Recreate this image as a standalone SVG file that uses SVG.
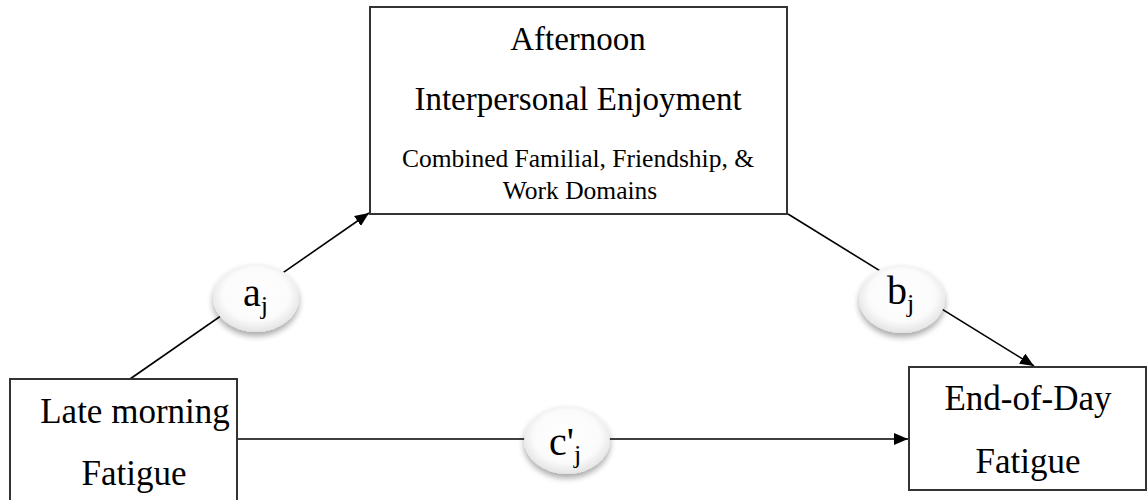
<svg xmlns="http://www.w3.org/2000/svg" width="1148" height="500" viewBox="0 0 1148 500">
  <defs>
    <style>
      .box { fill: #fff; stroke: #333; stroke-width: 2; }
      .lbl { font-family: "Liberation Serif", "Times New Roman", serif; fill: #000; text-anchor: middle; }
      .conn { stroke: #000; stroke-width: 1.6; fill: none; }
      .oval { fill: url(#ovalGrad); filter: url(#shadow); }
      .coef { font-family: "Liberation Serif", "Times New Roman", serif; fill: #000; font-size: 40px; }
      .sub { font-size: 26px; }
    </style>
    <radialGradient id="ovalGrad" cx="50%" cy="45%" r="55%">
      <stop offset="0%" stop-color="#ffffff"/>
      <stop offset="70%" stop-color="#fbfbfb"/>
      <stop offset="100%" stop-color="#e4e4e4"/>
    </radialGradient>
    <filter id="shadow" x="-30%" y="-30%" width="160%" height="170%">
      <feGaussianBlur in="SourceAlpha" stdDeviation="3"/>
      <feOffset dx="0" dy="4" result="b"/>
      <feComponentTransfer><feFuncA type="linear" slope="0.35"/></feComponentTransfer>
      <feMerge><feMergeNode/><feMergeNode in="SourceGraphic"/></feMerge>
    </filter>
    <marker id="arrow" viewBox="0 0 14 12" refX="14" refY="6" markerWidth="14" markerHeight="12" markerUnits="userSpaceOnUse" orient="auto">
      <path d="M0,0 L14,6 L0,12 z" fill="#000"/>
    </marker>
  </defs>

  <rect width="1148" height="500" fill="#fff"/>

  <g id="connectors">
    <line class="conn" x1="130" y1="379" x2="369" y2="213" marker-end="url(#arrow)"/>
    <line class="conn" x1="788" y1="214" x2="1034" y2="366" marker-end="url(#arrow)"/>
    <line class="conn" x1="237" y1="439" x2="908" y2="439" marker-end="url(#arrow)"/>
  </g>

  <g id="node-afternoon">
    <rect class="box" x="370" y="7" width="417" height="207"/>
    <text class="lbl" font-family="Liberation Serif, serif" x="578" y="50" font-size="33">Afternoon</text>
    <text class="lbl" font-family="Liberation Serif, serif" x="578" y="110" font-size="33">Interpersonal Enjoyment</text>
    <text class="lbl" font-family="Liberation Serif, serif" x="578" y="167" font-size="25.5">Combined Familial, Friendship, &amp;</text>
    <text class="lbl" font-family="Liberation Serif, serif" x="580" y="199" font-size="25.5">Work Domains</text>
  </g>

  <g id="node-late-morning">
    <rect class="box" x="10" y="379" width="227" height="130"/>
    <text class="lbl" font-family="Liberation Serif, serif" x="135" y="423" font-size="35">Late morning</text>
    <text class="lbl" font-family="Liberation Serif, serif" x="134" y="485" font-size="35">Fatigue</text>
  </g>

  <g id="node-end-of-day">
    <rect class="box" x="909" y="367" width="237" height="123"/>
    <text class="lbl" font-family="Liberation Serif, serif" x="1028" y="410" font-size="35">End-of-Day</text>
    <text class="lbl" font-family="Liberation Serif, serif" x="1028" y="473" font-size="35">Fatigue</text>
  </g>

  <g id="coef-a">
    <ellipse class="oval" cx="256" cy="298" rx="43" ry="34"/>
    <text class="coef" font-family="Liberation Serif, serif" x="243" y="306">a<tspan class="sub" dy="8">j</tspan></text>
  </g>

  <g id="coef-b">
    <ellipse class="oval" cx="902" cy="299" rx="43" ry="34"/>
    <text class="coef" font-family="Liberation Serif, serif" x="887" y="304">b<tspan class="sub" dy="8">j</tspan></text>
  </g>

  <g id="coef-c">
    <ellipse class="oval" cx="567" cy="440" rx="43" ry="34"/>
    <text class="coef" font-family="Liberation Serif, serif" x="549" y="455">c'<tspan class="sub" dy="8">j</tspan></text>
  </g>
</svg>
